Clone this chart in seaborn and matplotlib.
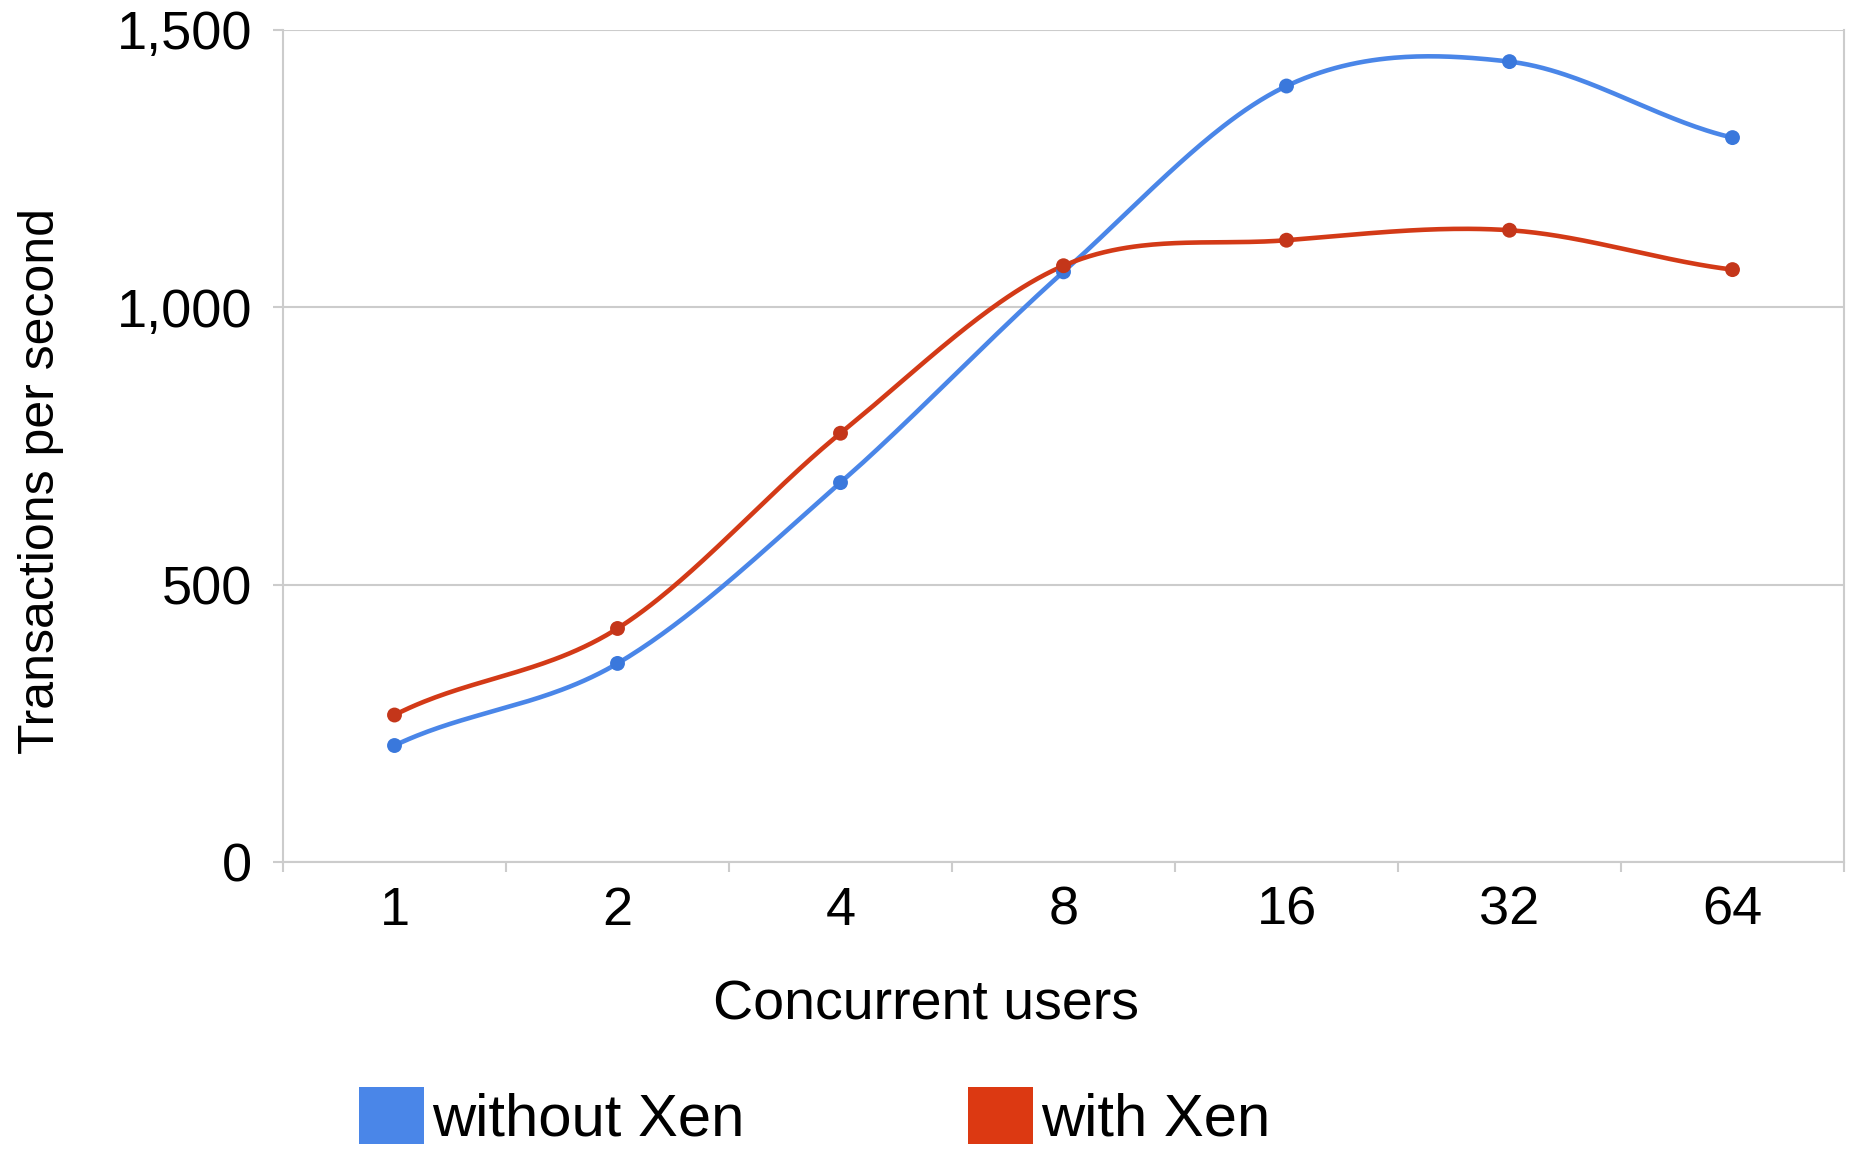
import numpy as np
import pandas as pd
import matplotlib
matplotlib.use("Agg")
import matplotlib.pyplot as plt
import seaborn as sns
from matplotlib.patches import Patch
from matplotlib.ticker import FuncFormatter

# Benchmark results: transactions per second by number of concurrent users
users = ["1", "2", "4", "8", "16", "32", "64"]
without_xen = [210, 358, 684, 1064, 1399, 1443, 1306]
with_xen = [265, 421, 773, 1075, 1121, 1139, 1068]
series_names = ["without Xen", "with Xen"]
y_ticks = [0, 500, 1000, 1500]

line_colors = {"without Xen": "#4a86e8", "with Xen": "#d33a17"}
marker_colors = {"without Xen": "#3a78dc", "with Xen": "#c4361a"}
legend_colors = {"without Xen": "#4a86e8", "with Xen": "#dc3912"}
GRID = "#cccccc"


def smooth(values, steps=60):
    """Cubic Hermite curve through the points (category index on x)."""
    y = np.asarray(values, float)
    n = len(y)
    d = np.diff(y)
    m = np.empty(n)
    m[1:-1] = (y[2:] - y[:-2]) / 2
    m[0] = (d[0] + m[1]) / 2
    m[-1] = (d[-1] + m[-2]) / 2
    t = np.linspace(0, 1, steps, endpoint=False)
    h00 = 2 * t**3 - 3 * t**2 + 1
    h10 = t**3 - 2 * t**2 + t
    h01 = -2 * t**3 + 3 * t**2
    h11 = t**3 - t**2
    xs, ys = [], []
    for i in range(n - 1):
        xs.append(i + t)
        ys.append(h00 * y[i] + h10 * m[i] + h01 * y[i + 1] + h11 * m[i + 1])
    xs.append([n - 1])
    ys.append([y[-1]])
    return np.concatenate(xs), np.concatenate(ys)


pos = np.arange(len(users))
points = pd.concat([
    pd.DataFrame({"pos": pos, "tps": vals, "series": name})
    for name, vals in zip(series_names, [without_xen, with_xen])
], ignore_index=True)

curve_frames = []
for name, vals in zip(series_names, [without_xen, with_xen]):
    cx, cy = smooth(vals)
    curve_frames.append(pd.DataFrame({"pos": cx, "tps": cy, "series": name}))
curves = pd.concat(curve_frames, ignore_index=True)

sns.set_theme(style="white")
plt.rcParams["font.family"] = ["Liberation Sans", "DejaVu Sans"]
plt.rcParams["text.color"] = "black"

fig, ax = plt.subplots(figsize=(18.51, 11.53), dpi=100)
fig.subplots_adjust(left=283 / 1851, right=1844 / 1851,
                    bottom=1 - 862 / 1153, top=1 - 30 / 1153)

sns.lineplot(data=curves, x="pos", y="tps", hue="series", palette=line_colors,
             sort=False, estimator=None, linewidth=3.3, legend=False, ax=ax,
             zorder=3)
sns.scatterplot(data=points, x="pos", y="tps", hue="series", palette=marker_colors,
                s=115, linewidth=0, legend=False, ax=ax, zorder=4)

ax.set_xlim(-0.5, len(users) - 0.5)
ax.set_ylim(0, 1500)

ax.set_xticks(pos)
ax.set_xticklabels(users)
ax.set_xticks(np.arange(-0.5, len(users), 1.0), minor=True)
ax.tick_params(axis="x", which="major", length=0, pad=17, labelsize=39,
               labelcolor="black")
ax.tick_params(axis="x", which="minor", length=7, width=1.5, color=GRID,
               direction="out", bottom=True)

ax.set_yticks(y_ticks)
ax.yaxis.set_major_formatter(FuncFormatter(lambda v, p: f"{int(v):,}"))
ax.tick_params(axis="y", length=7, width=1.5, color=GRID, direction="out",
               left=True, pad=15, labelsize=39, labelcolor="black")

ax.grid(axis="y", color=GRID, linewidth=1.5)
ax.grid(axis="x", visible=False)
ax.set_axisbelow(True)

ax.spines["top"].set_visible(False)
for side in ["left", "bottom", "right"]:
    ax.spines[side].set_color(GRID)
    ax.spines[side].set_linewidth(1.5)

ax.set_xlabel("Concurrent users", fontsize=40, color="black")
ax.xaxis.set_label_coords(925.5 / 1851, 1 - 1019 / 1153, transform=fig.transFigure)
ax.xaxis.label.set_va("baseline")

ax.set_ylabel("Transactions per second", fontsize=36, color="black")
ax.yaxis.set_label_coords(41 / 1851, 1 - 481 / 1153, transform=fig.transFigure)
ax.yaxis.label.set_va("center")

# Legend entries sit side by side along the bottom edge
legend_x = {"without Xen": 359 / 1851, "with Xen": 968 / 1851}
for name in series_names:
    handle = Patch(facecolor=legend_colors[name], edgecolor="none", label=name)
    fig.legend(handles=[handle], loc="upper left",
               bbox_to_anchor=(legend_x[name], 1 - 1087 / 1153),
               frameon=False, fontsize=43, labelcolor="black",
               handlelength=1.08, handleheight=1.1,
               handletextpad=0.15, borderpad=0, borderaxespad=0)

fig.savefig("out.png", dpi=100, facecolor="white")
